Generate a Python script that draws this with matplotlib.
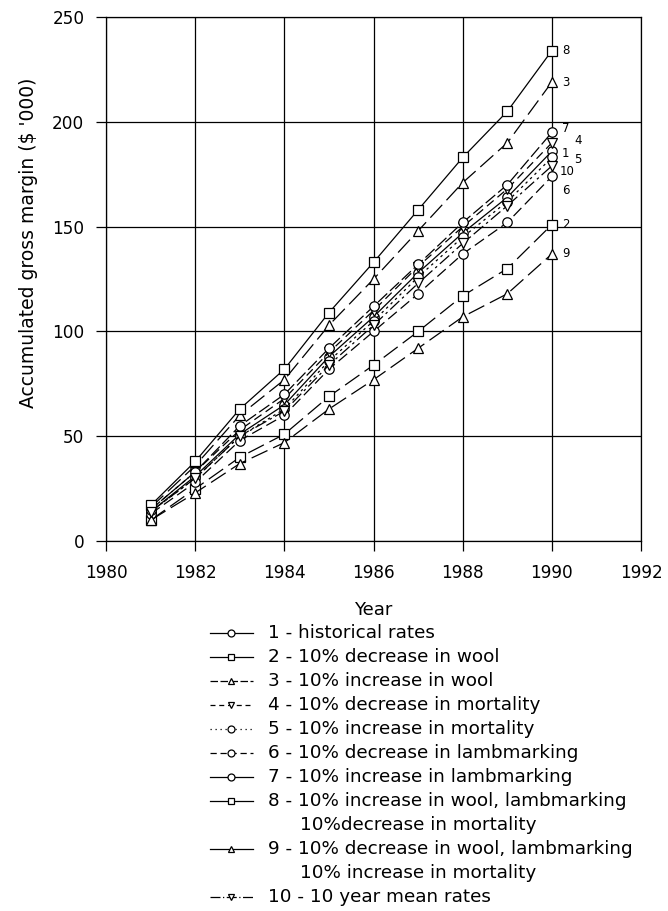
import numpy as np
import matplotlib.pyplot as plt
from matplotlib.lines import Line2D

plt.rcParams['font.family'] = ['DejaVu Sans']

years = np.arange(1981, 1991)

# accumulated gross margin ($'000) per scenario
s1 = [14, 31, 51, 65, 88, 107, 128, 147, 164, 186]
s2 = [10, 25, 40, 51, 69, 84, 100, 117, 130, 151]
s3 = [16, 36, 60, 77, 103, 125, 148, 171, 190, 219]
s4 = [15, 33, 53, 68, 90, 110, 131, 150, 168, 190]
s5 = [14, 30, 50, 63, 86, 105, 126, 145, 162, 183]
s6 = [13, 28, 48, 60, 82, 100, 118, 137, 152, 174]
s7 = [15, 33, 55, 70, 92, 112, 132, 152, 170, 195]
s8 = [17, 38, 63, 82, 109, 133, 158, 183, 205, 234]
s9 = [10, 23, 37, 47, 63, 77, 92, 107, 118, 137]
s10 = [14, 30, 50, 62, 84, 103, 123, 142, 160, 179]

series = [s1, s2, s3, s4, s5, s6, s7, s8, s9, s10]
tags = ['1', '2', '3', '4', '5', '6', '7', '8', '9', '10']
names = ['1 - historical rates',
         '2 - 10% decrease in wool',
         '3 - 10% increase in wool',
         '4 - 10% decrease in mortality',
         '5 - 10% increase in mortality',
         '6 - 10% decrease in lambmarking',
         '7 - 10% increase in lambmarking',
         '8 - 10% increase in wool, lambmarking',
         '9 - 10% decrease in wool, lambmarking',
         '10 - 10 year mean rates']
second_lines = {7: '10%decrease in mortality', 8: '10% increase in mortality'}

markers = ['o', 's', '^', 'v', 'o', 'o', 'o', 's', '^', 'v']
styles = ['-', (0, (14, 5)), (0, (14, 5)), (0, (7, 4)), (0, (2, 3)),
          (0, (9, 4)), (0, (10, 3)), '-', (0, (14, 5)), (0, (10, 3, 2, 3))]
leg_styles = ['-', '-', (0, (6, 2)), (0, (4, 3)), (0, (1, 3)),
              (0, (5, 3)), '-', '-', '-', (0, (8, 2, 1, 2))]
# end label offsets in pixels
lab_off = [(10, -2), (10, 0), (10, 0), (22, 2), (22, -2), (10, -14),
           (10, 4), (10, 0), (10, 0), (8, -6)]

fig = plt.figure(figsize=(6.68, 9.11), dpi=100)
ax = fig.add_axes([0.1587, 0.406, 0.801, 0.5753])

for i, vals in enumerate(series):
    ax.plot(years, vals, color='black', lw=0.9, linestyle=styles[i],
            marker=markers[i], markersize=6.8, markerfacecolor='white',
            markeredgecolor='black', markeredgewidth=0.9, zorder=3)
    ax.annotate(tags[i], (years[-1], vals[-1]), xytext=lab_off[i],
                textcoords='offset pixels', fontsize=8.5, va='center',
                ha='left')

ax.set_xlim(1980, 1992)
ax.set_ylim(0, 250)
ax.set_xticks(np.arange(1980, 1993, 2))
ax.set_yticks(np.arange(0, 251, 50))
ax.grid(True, color='black', lw=0.9)
ax.tick_params(direction='out', length=7.5, width=0.9, labelsize=12.2)
ax.tick_params(axis='x', pad=9)
ax.tick_params(axis='y', pad=8)
for sp in ax.spines.values():
    sp.set_linewidth(0.9)
ax.set_xlabel('Year', fontsize=13, labelpad=14)
ax.set_ylabel("Accumulated gross margin ($ '000)", fontsize=13.5)
ax.yaxis.set_label_coords(-0.128, 0.569)

# legend below the axes
x0, x1, xt, x2 = 210 / 668, 253 / 668, 268 / 668, 300 / 668
row = 24.0 / 911
y = 1 - 633 / 911
for i in range(10):
    fig.add_artist(Line2D([x0, x1], [y, y], color='black', lw=0.9,
                          linestyle=leg_styles[i],
                          transform=fig.transFigure))
    fig.add_artist(Line2D([(x0 + x1) / 2], [y], marker=markers[i],
                          markersize=5, markerfacecolor='white',
                          markeredgecolor='black', markeredgewidth=0.9,
                          transform=fig.transFigure))
    fig.text(xt, y, names[i], fontsize=13.2, va='center', ha='left')
    y -= row
    if i in second_lines:
        fig.text(x2, y, second_lines[i], fontsize=13.2, va='center',
                 ha='left')
        y -= row

fig.savefig('out.png', dpi=100)
